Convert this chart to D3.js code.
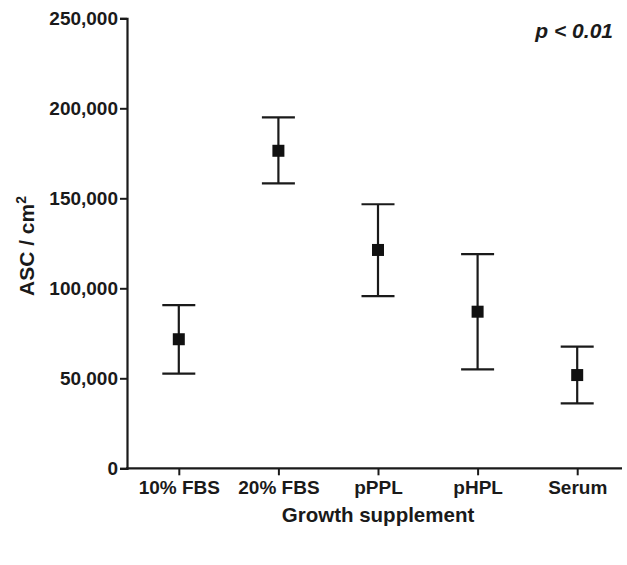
<!DOCTYPE html>
<html>
<head>
<meta charset="utf-8">
<script src="https://cdn.jsdelivr.net/npm/d3@7"></script>
<style>
body { margin: 0; background: #fff; }
text { font-family: "Liberation Sans", Arial, sans-serif; font-weight: bold; fill: #1a1a1a; }
</style>
</head>
<body>
<script>
var groups = ["10% FBS", "20% FBS", "pPPL", "pHPL", "Serum"];
var means = [71700, 176400, 121300, 87000, 51800];
var upper = [90700, 195000, 146700, 119000, 67600];
var lower = [52600, 158300, 95700, 55000, 36100];
var yTicks = [0, 50000, 100000, 150000, 200000, 250000];

var svgWidth = 627, svgHeight = 565;
var axisX = 127, axisY = 468.3, topY = 18.3;

var svg = d3.select("body").append("svg").attr("width", svgWidth).attr("height", svgHeight);

var x = d3.scalePoint().domain(groups).range([129, 627]).padding(0.5);
var y = d3.scaleLinear().domain([0, 250000]).range([axisY, topY]);

// y axis
var yAxis = svg.append("g").attr("transform", `translate(${axisX},0)`)
  .call(d3.axisLeft(y).tickValues(yTicks).tickSize(7).tickPadding(2).tickFormat(d3.format(",")));
yAxis.select(".domain").attr("stroke", "#1a1a1a").attr("stroke-width", 2.2);
yAxis.selectAll(".tick line").attr("stroke", "#1a1a1a").attr("stroke-width", 2);
yAxis.selectAll(".tick text").attr("font-size", "19px").attr("font-family", null).attr("fill", "#1a1a1a");

// x axis
var xAxis = svg.append("g").attr("transform", `translate(0,${axisY})`)
  .call(d3.axisBottom(x).tickSize(7).tickPadding(5));
xAxis.select(".domain").remove();
xAxis.append("line").attr("x1", axisX - 1).attr("x2", 622).attr("stroke", "#1a1a1a").attr("stroke-width", 2.2);
xAxis.selectAll(".tick line").attr("stroke", "#1a1a1a").attr("stroke-width", 2);
xAxis.selectAll(".tick text").attr("font-size", "19px").attr("font-family", null).attr("fill", "#1a1a1a");

// error bars
var data = groups.map((g, i) => ({g: g, m: means[i], hi: upper[i], lo: lower[i]}));
var capW = 33, sq = 12;
var eb = svg.append("g").attr("stroke", "#1a1a1a").attr("stroke-width", 2.2);
eb.selectAll(".whisker").data(data).enter().append("line")
  .attr("x1", d => x(d.g)).attr("x2", d => x(d.g)).attr("y1", d => y(d.hi)).attr("y2", d => y(d.lo));
eb.selectAll(".capHi").data(data).enter().append("line")
  .attr("x1", d => x(d.g) - capW / 2).attr("x2", d => x(d.g) + capW / 2).attr("y1", d => y(d.hi)).attr("y2", d => y(d.hi));
eb.selectAll(".capLo").data(data).enter().append("line")
  .attr("x1", d => x(d.g) - capW / 2).attr("x2", d => x(d.g) + capW / 2).attr("y1", d => y(d.lo)).attr("y2", d => y(d.lo));
svg.selectAll(".pt").data(data).enter().append("rect")
  .attr("x", d => x(d.g) - sq / 2).attr("y", d => y(d.m) - sq / 2)
  .attr("width", sq).attr("height", sq).attr("fill", "#111");

// labels
svg.append("text").attr("transform", "rotate(-90)").attr("x", -246).attr("y", 34)
  .attr("text-anchor", "middle").attr("font-size", "21px")
  .html('ASC / cm<tspan font-size="14px" dy="-8">2</tspan>');
svg.append("text").attr("x", 378).attr("y", 522).attr("text-anchor", "middle")
  .attr("font-size", "20.5px").text("Growth supplement");
svg.append("text").attr("x", 613).attr("y", 38).attr("text-anchor", "end")
  .attr("font-size", "21px").attr("font-style", "italic").text("p < 0.01");
</script>
</body>
</html>
